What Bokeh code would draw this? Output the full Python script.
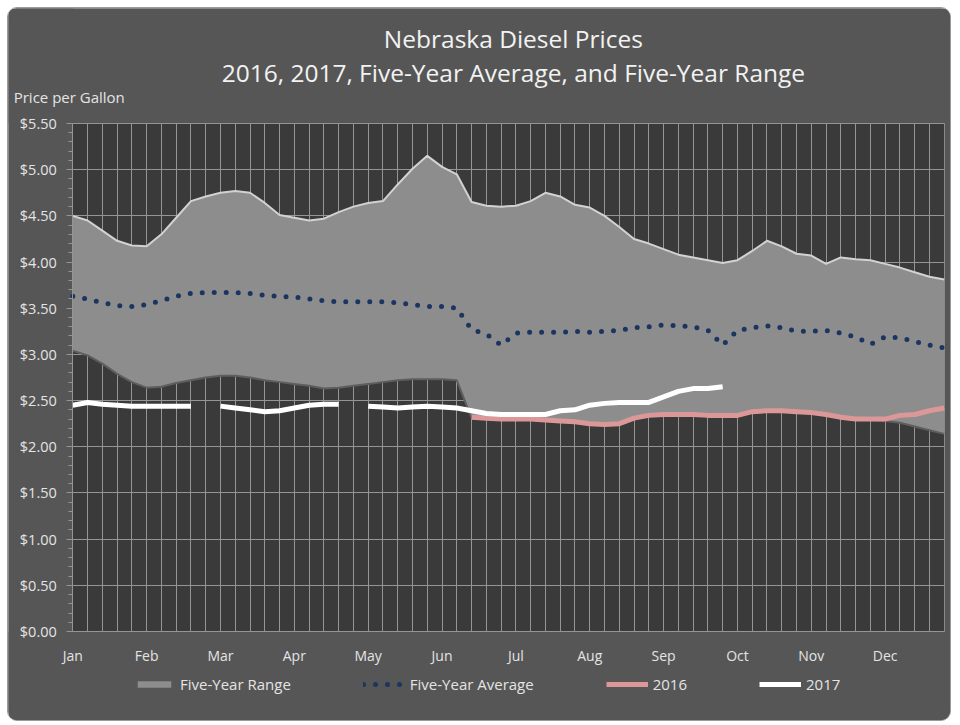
from bokeh.plotting import figure
from bokeh.models import (Range1d, FixedTicker, NumeralTickFormatter, Label, Legend,
                          LegendItem, BoxAnnotation)
from bokeh.embed import file_html
from bokeh.resources import INLINE

nan = float("nan")

# ---- data (weekly index across the year) ----
weeks = list(range(60))
month_ticks = [0, 5, 10, 15, 20, 25, 30, 35, 40, 45, 50, 55]
month_labels = ["Jan", "Feb", "Mar", "Apr", "May", "Jun",
                "Jul", "Aug", "Sep", "Oct", "Nov", "Dec"]
price_ticks = [0.0, 0.5, 1.0, 1.5, 2.0, 2.5, 3.0, 3.5, 4.0, 4.5, 5.0, 5.5]

range_high = [4.50, 4.45, 4.34, 4.23, 4.18, 4.17, 4.30, 4.48, 4.66, 4.71, 4.75, 4.77, 4.75, 4.64, 4.51,
              4.48, 4.45, 4.47, 4.54, 4.60, 4.64, 4.66, 4.84, 5.01, 5.15, 5.03, 4.95, 4.65, 4.61, 4.60,
              4.61, 4.66, 4.75, 4.71, 4.62, 4.59, 4.50, 4.38, 4.25, 4.20, 4.14, 4.08, 4.05, 4.02, 3.99,
              4.02, 4.12, 4.23, 4.17, 4.09, 4.07, 3.98, 4.05, 4.03, 4.02, 3.98, 3.94, 3.89, 3.84, 3.81]

range_low = [3.04, 2.99, 2.90, 2.79, 2.70, 2.64, 2.65, 2.69, 2.72, 2.75, 2.77, 2.77, 2.75, 2.72, 2.70,
             2.68, 2.66, 2.63, 2.64, 2.66, 2.68, 2.70, 2.72, 2.73, 2.73, 2.73, 2.72, 2.31, 2.30, 2.29,
             2.29, 2.29, 2.28, 2.27, 2.26, 2.24, 2.23, 2.24, 2.30, 2.33, 2.34, 2.34, 2.34, 2.33, 2.33,
             2.33, 2.37, 2.38, 2.38, 2.37, 2.36, 2.34, 2.31, 2.29, 2.29, 2.28, 2.26, 2.22, 2.18, 2.14]

five_year_avg = [3.63, 3.60, 3.56, 3.53, 3.52, 3.54, 3.58, 3.63, 3.66, 3.67, 3.67, 3.67, 3.66, 3.64, 3.63,
                 3.62, 3.60, 3.58, 3.57, 3.57, 3.57, 3.57, 3.56, 3.54, 3.52, 3.52, 3.50, 3.27, 3.22, 3.10,
                 3.23, 3.24, 3.24, 3.24, 3.25, 3.24, 3.25, 3.26, 3.29, 3.30, 3.32, 3.31, 3.30, 3.26, 3.10,
                 3.26, 3.29, 3.31, 3.29, 3.25, 3.25, 3.26, 3.23, 3.19, 3.11, 3.19, 3.18, 3.14, 3.10, 3.07]

prices_2016 = [nan] * 27 + [2.32, 2.31, 2.30,
                            2.30, 2.30, 2.29, 2.28, 2.27, 2.25, 2.24, 2.25, 2.31, 2.34, 2.35, 2.35, 2.35, 2.34, 2.34,
                            2.34, 2.38, 2.39, 2.39, 2.38, 2.37, 2.35, 2.32, 2.30, 2.30, 2.30, 2.34, 2.35, 2.39, 2.42]

prices_2017 = [2.45, 2.48, 2.46, 2.45, 2.44, 2.44, 2.44, 2.44, 2.44, nan,
               2.44, 2.42, 2.40, 2.38, 2.39, 2.42, 2.45, 2.46, 2.46, nan,
               2.44, 2.43, 2.42, 2.43, 2.44, 2.43, 2.42, 2.39, 2.36, 2.35,
               2.35, 2.35, 2.35, 2.39, 2.40, 2.45, 2.47, 2.48, 2.48, 2.48,
               2.54, 2.60, 2.63, 2.63, 2.65] + [nan] * 15

FONT = "Open Sans"
OUTER = "#565656"
PLOT_BG = "#3a3a3a"
GRID = "#959595"
TEXT = "#e4e4e4"

# The frame fills the whole canvas; everything outside the plotting area
# (weeks 0..59, $0..$5.50) is painted in the outer colour, so that titles,
# month labels and legend can sit on it without being clipped.
p = figure(width=944, height=714, x_range=Range1d(-4.353, 59.56), y_range=Range1d(-0.985, 6.745),
           output_backend="svg", toolbar_location=None,
           min_border_left=0, min_border_right=0, min_border_top=0, min_border_bottom=0)
p.background_fill_color = PLOT_BG
p.border_fill_color = OUTER
p.outline_line_color = None
p.styles = {"margin": "7px 0 0 7px", "border": "1px solid #9a9a9a",
            "border-radius": "10px", "overflow": "hidden"}

# grids
p.xgrid.ticker = FixedTicker(ticks=weeks)
p.ygrid.ticker = FixedTicker(ticks=price_ticks)
p.xgrid.grid_line_color = GRID
p.ygrid.grid_line_color = GRID
for box in (BoxAnnotation(top=0), BoxAnnotation(bottom=5.506),
            BoxAnnotation(right=0), BoxAnnotation(left=59.04)):
    box.fill_color = OUTER
    box.fill_alpha = 1
    box.line_color = None
    box.level = "underlay"
    p.add_layout(box)

# x axis (drawn at $0)
p.xaxis.fixed_location = 0
p.xaxis.bounds = (0, 59)
p.xaxis.ticker = FixedTicker(ticks=month_ticks)
p.xaxis.major_label_overrides = {t: m for t, m in zip(month_ticks, month_labels)}
p.xaxis.axis_line_color = GRID
p.xaxis.major_tick_line_color = None
p.xaxis.minor_tick_line_color = None
p.xaxis.major_label_text_color = TEXT
p.xaxis.major_label_text_font = FONT
p.xaxis.major_label_text_font_size = "14px"
p.xaxis.major_label_standoff = 8

# y axis (drawn at week 0)
p.yaxis.fixed_location = 0
p.yaxis.bounds = (0, 5.5)
p.yaxis.ticker = FixedTicker(ticks=price_ticks,
                             minor_ticks=[i / 10 for i in range(0, 56)])
p.yaxis.formatter = NumeralTickFormatter(format="$0.00")
p.yaxis.axis_line_color = GRID
p.yaxis.major_tick_line_color = GRID
p.yaxis.minor_tick_line_color = GRID
p.yaxis.major_tick_out = 6
p.yaxis.major_tick_in = 0
p.yaxis.minor_tick_out = 4
p.yaxis.minor_tick_in = 0
p.yaxis.major_label_text_color = TEXT
p.yaxis.major_label_text_font = FONT
p.yaxis.major_label_text_font_size = "14.5px"
p.yaxis.major_label_standoff = 10

# series
rng = p.varea(x=weeks, y1=range_low, y2=range_high, fill_color="#8d8d8d")
p.line(weeks, range_high, line_color="#d2d2d2", line_width=2)
p.line(weeks, range_low, line_color="#5e5e5e", line_width=2)
avg = p.line(weeks, five_year_avg, line_color="#1c3560", line_width=5,
             line_dash="0 12", line_cap="round")
l16 = p.line(weeks, prices_2016, line_color="#dc9898", line_width=5)
l17 = p.line(weeks, prices_2017, line_color="#ffffff", line_width=5)

legend = Legend(items=[LegendItem(label="Five-Year Range", renderers=[rng]),
                       LegendItem(label="Five-Year Average", renderers=[avg]),
                       LegendItem(label="2016", renderers=[l16]),
                       LegendItem(label="2017", renderers=[l17])],
                orientation="horizontal", location=(125, 28),
                spacing=72, label_standoff=5, glyph_width=42, glyph_height=8,
                label_height=20, padding=0, margin=0,
                border_line_color=None, background_fill_alpha=0,
                label_text_color=TEXT, label_text_font=FONT, label_text_font_size="15px")
p.add_layout(legend)

# titles and axis caption
p.add_layout(Label(x=29.83, y=6.42, text="Nebraska Diesel Prices", text_align="center",
                   text_baseline="middle", text_color="#f2f2f2", text_font=FONT,
                   text_font_size="24.5px"))
p.add_layout(Label(x=29.83, y=6.052, text="2016, 2017, Five-Year Average, and Five-Year Range",
                   text_align="center", text_baseline="middle", text_color="#f2f2f2",
                   text_font=FONT, text_font_size="24.5px"))
p.add_layout(Label(x=-4.0, y=5.79, text="Price per Gallon", text_align="left",
                   text_baseline="middle", text_color=TEXT, text_font=FONT,
                   text_font_size="15px"))

open("out.html", "w").write(file_html(p, INLINE))
